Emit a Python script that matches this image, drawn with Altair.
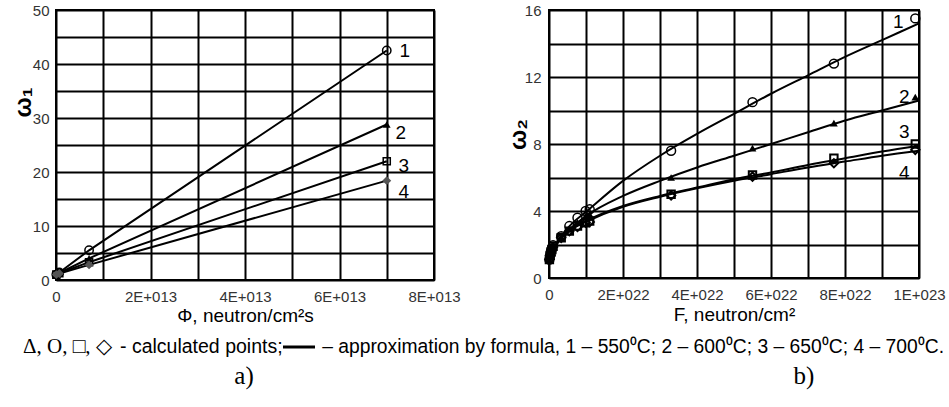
import altair as alt
import pandas as pd

# ---------------- data: panel a) ----------------
PHI = [7e10, 7e11, 7e12, 7e13]
A_S1 = [1.0, 1.4, 5.5, 42.5]
A_S2 = [1.0, 1.3, 4.0, 28.8]
A_S3 = [1.0, 1.25, 3.3, 22.0]
A_S4 = [1.0, 1.2, 2.8, 18.4]

# ---------------- data: panel b) ----------------
F_PTS = [1.1e20, 3.3e20, 5.5e20, 7.7e20, 1.1e21, 3.3e21, 5.5e21, 7.7e21,
         9.9e21, 1.1e22, 3.3e22, 5.5e22, 7.7e22, 9.9e22]
B_S1 = [1.1, 1.4, 1.6, 1.75, 1.95, 2.5, 3.1, 3.6, 4.0, 4.1, 7.6, 10.5, 12.8, 15.5]
B_S2 = [1.1, 1.4, 1.6, 1.75, 1.95, 2.45, 2.9, 3.3, 3.7, 3.8, 6.0, 7.75, 9.25, 10.8]
B_S3 = [1.1, 1.35, 1.55, 1.7, 1.9, 2.4, 2.8, 3.1, 3.3, 3.4, 5.0, 6.15, 7.15, 8.0]
B_S4 = [1.1, 1.35, 1.55, 1.7, 1.85, 2.4, 2.8, 3.05, 3.3, 3.35, 4.93, 6.05, 6.85, 7.65]

# approximation curves
F_CURVE = [0, 1e21, 3e21, 6e21, 1e22, 2e22, 3e22, 4e22, 5e22, 6e22, 7e22, 8e22, 9e22, 1e23]
C_S1 = [1.0, 1.6, 2.4, 3.2, 3.95, 5.8, 7.3, 8.6, 9.8, 11.0, 12.1, 13.2, 14.2, 15.2]
C_S2 = [1.0, 1.6, 2.4, 3.0, 3.7, 4.9, 5.8, 6.6, 7.3, 8.0, 8.7, 9.4, 10.0, 10.6]
C_S3 = [1.0, 1.6, 2.3, 2.9, 3.4, 4.3, 4.9, 5.4, 5.9, 6.3, 6.75, 7.15, 7.55, 7.9]
C_S4 = [1.0, 1.6, 2.3, 2.9, 3.35, 4.25, 4.85, 5.35, 5.8, 6.2, 6.6, 6.95, 7.3, 7.6]

SERIES = ["1", "2", "3", "4"]

LEG_SYMBOLS = "Δ, O, □, ◇"
LEG_PART2 = "- calculated points;"
LEG_PART3 = "– approximation by formula,  1 – 550⁰C; 2 – 600⁰C; 3 – 650⁰C; 4 – 700⁰C."
PANEL_A = "a)"
PANEL_B = "b)"

SANS = "Liberation Sans"
SERIF = "Liberation Serif"


def long_df(xs, ys_list):
    rows = []
    for name, ys in zip(SERIES, ys_list):
        for x, y in zip(xs, ys):
            rows.append({"s": name, "x": x, "y": y})
    return pd.DataFrame(rows)


a_pts = long_df(PHI, [A_S1, A_S2, A_S3, A_S4])
b_pts = long_df(F_PTS, [B_S1, B_S2, B_S3, B_S4])
b_crv = long_df(F_CURVE, [C_S1, C_S2, C_S3, C_S4])

# ---------------- axes ----------------
ax_a_x = alt.Axis(
    values=[i * 1e13 for i in range(9)],
    labelExpr="datum.value == 0 ? '0' : (round(datum.value/1e13) % 2 == 0 ? round(datum.value/1e13) + 'E+013' : '')",
    title="Φ, neutron/cm²s", titleFont=SANS, titleFontSize=19, titleFontWeight=500,
    titleBaseline="middle", titleY=35,
    labelPadding=9, labelFlush=False,
)
ax_a_y = alt.Axis(
    values=[i * 5 for i in range(11)],
    labelExpr="datum.value % 10 == 0 ? datum.label : ''",
    title="ω₁", titleFont=SANS, titleFontSize=24, titleFontWeight="bold",
    titleBaseline="middle", titleX=-33, titleY=92,
    labelPadding=7, labelFlush=False,
)
ax_b_x = alt.Axis(
    values=[i * 1e22 for i in range(11)],
    labelExpr="datum.value == 0 ? '0' : (round(datum.value/1e22) % 2 != 0 ? '' : (round(datum.value/1e22) == 10 ? '1E+023' : round(datum.value/1e22) + 'E+022'))",
    title="F, neutron/cm²", titleFont=SANS, titleFontSize=19, titleFontWeight=500,
    titleBaseline="middle", titleY=36,
    labelPadding=9, labelFlush=False,
)
ax_b_y = alt.Axis(
    values=[i * 2 for i in range(9)],
    labelExpr="datum.value % 4 == 0 ? datum.label : ''",
    title="ω₂", titleFont=SANS, titleFontSize=24, titleFontWeight="bold",
    titleBaseline="middle", titleX=-31, titleY=124,
    labelPadding=8, labelFlush=False,
)

xa = alt.X("x:Q", scale=alt.Scale(domain=[0, 8e13], nice=False), axis=ax_a_x)
ya = alt.Y("y:Q", scale=alt.Scale(domain=[0, 50], nice=False), axis=ax_a_y)
xb = alt.X("x:Q", scale=alt.Scale(domain=[0, 1e23], nice=False), axis=ax_b_x)
yb = alt.Y("y:Q", scale=alt.Scale(domain=[0, 16], nice=False), axis=ax_b_y)

# ---------------- panel a ----------------
a_lines = alt.Chart(a_pts).mark_line(color="black", strokeWidth=2).encode(
    x=xa, y=ya, detail="s:N", order="x:Q")

a_marks = {
    "1": dict(shape="circle", filled=False, color="black", size=70, strokeWidth=1.5),
    "2": dict(shape="triangle-up", filled=True, color="black", size=60),
    "3": dict(shape="square", filled=False, color="black", size=50, strokeWidth=1.5),
    "4": dict(shape="diamond", filled=True, color="#555555", size=80),
}
a_offsets = {"1": (18, 0), "2": (14, 9), "3": (17, 5), "4": (17, 11)}

a_layers = [a_lines]
for s in SERIES:
    d = a_pts[a_pts.s == s]
    a_layers.append(alt.Chart(d).mark_point(opacity=1, **a_marks[s]).encode(x=xa, y=ya))
    last = d[d.x == d.x.max()]
    dx, dy = a_offsets[s]
    a_layers.append(alt.Chart(last).mark_text(
        font=SANS, fontSize=19, color="black", dx=dx, dy=dy, align="center", baseline="middle"
    ).encode(x=xa, y=ya, text="s:N"))

# annotation text below both panels (placed in panel a's coordinate frame)
def txt(s, x, y, font, size, align="left"):
    return alt.Chart(pd.DataFrame({"t": [s]})).mark_text(
        font=font, fontSize=size, color="black", align=align, baseline="middle"
    ).encode(text="t:N", x=alt.value(x), y=alt.value(y))

a_layers += [
    txt(LEG_SYMBOLS, -33, 337, SERIF, 21),
    txt(LEG_PART2, 64, 337, SANS, 19.5),
    txt(LEG_PART3, 888, 337, SANS, 19.3, "right"),
    alt.Chart(pd.DataFrame({"a": [0]})).mark_rule(color="black", strokeWidth=3).encode(
        x=alt.value(227), x2=alt.value(259), y=alt.value(337), y2=alt.value(337)),
    txt(PANEL_A, 188, 366, SERIF, 25, "center"),
    txt(PANEL_B, 748, 366, SERIF, 25, "center"),
    alt.Chart(pd.DataFrame({"a": [0]})).mark_rule(opacity=0).encode(
        x=alt.value(-55), x2=alt.value(-55), y=alt.value(-9), y2=alt.value(-9)),
]

left = alt.layer(*a_layers).properties(width=378, height=270)

# ---------------- panel b ----------------
b_lines = alt.Chart(b_crv).mark_line(color="black", strokeWidth=2, interpolate="monotone").encode(
    x=xb, y=yb, detail="s:N", order="x:Q")

b_marks = {
    "1": dict(shape="circle", filled=False, color="black", size=80, strokeWidth=1.5),
    "2": dict(shape="triangle-up", filled=True, color="black", size=60),
    "3": dict(shape="square", filled=False, color="black", size=55, strokeWidth=2),
    "4": dict(shape="diamond", filled=False, color="black", size=70, strokeWidth=2),
}
b_offsets = {"1": (-17, 4), "2": (-11, 0), "3": (-11, -12), "4": (-11, 23)}

b_layers = [b_lines]
for s in SERIES:
    d = b_pts[b_pts.s == s]
    b_layers.append(alt.Chart(d).mark_point(opacity=1, **b_marks[s]).encode(x=xb, y=yb))
    last = d[d.x == d.x.max()]
    dx, dy = b_offsets[s]
    b_layers.append(alt.Chart(last).mark_text(
        font=SANS, fontSize=19, color="black", dx=dx, dy=dy, align="center", baseline="middle"
    ).encode(x=xb, y=yb, text="s:N"))

right = alt.layer(*b_layers).properties(width=370, height=268)

chart = alt.hconcat(left, right, spacing=115, bounds="flush").properties(
    padding=0, background="white"
).configure_view(
    stroke="black", strokeWidth=2
).configure_axis(
    grid=True, gridColor="black", gridWidth=2, gridOpacity=1,
    domain=False, ticks=False,
    labelFont=SANS, labelFontSize=15, labelColor="#333333",
    titleColor="black",
)

chart.save("out.html", embed_options={"renderer": "svg", "actions": False})
